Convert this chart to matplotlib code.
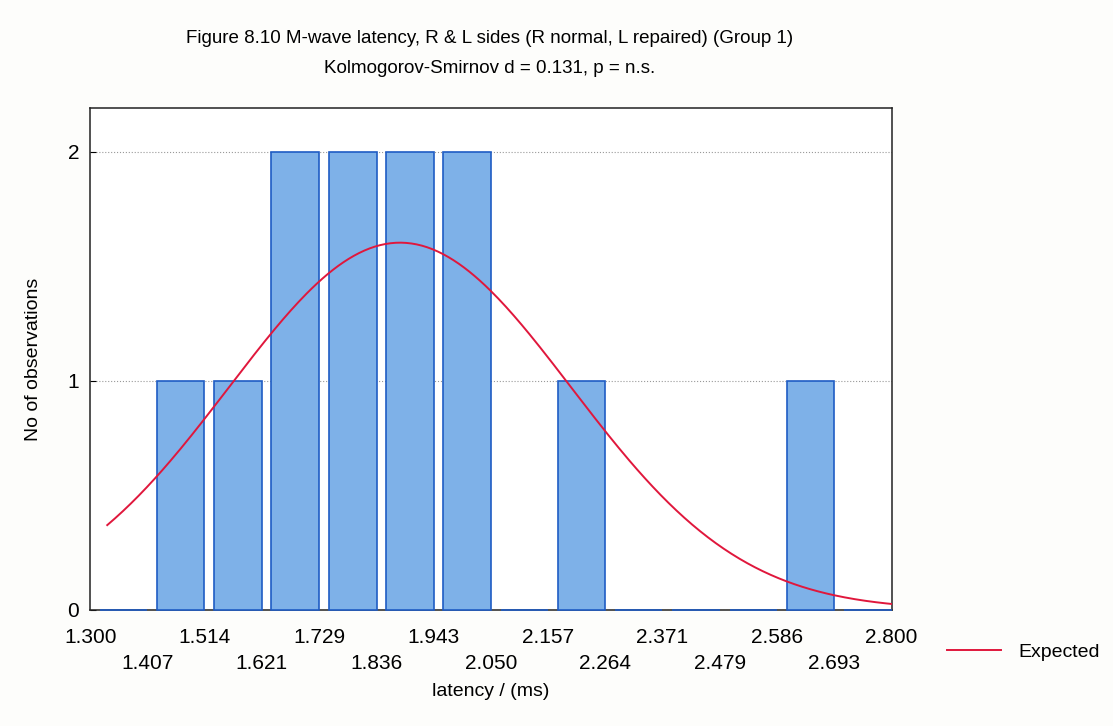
import numpy as np
import matplotlib.pyplot as plt

# ── DATA ────────────────────────────────────────────────────
bin_edges = [1.300, 1.407, 1.514, 1.621, 1.729, 1.836, 1.943, 2.050,
             2.157, 2.264, 2.371, 2.479, 2.586, 2.693, 2.800]
counts = [0, 1, 1, 2, 2, 2, 2, 0, 1, 0, 0, 0, 1, 0]
edge_labels = ['1.300', '1.407', '1.514', '1.621', '1.729', '1.836', '1.943', '2.050',
               '2.157', '2.264', '2.371', '2.479', '2.586', '2.693', '2.800']

# expected normal curve parameters
n_obs = 12
fit_mean = 1.88
fit_sd = 0.32
curve_start = 1.332

# ── CHART ───────────────────────────────────────────────────
plt.rcParams['font.family'] = ['Liberation Sans', 'DejaVu Sans']

fig = plt.figure(figsize=(11.13, 7.26), dpi=100, facecolor='#fdfdfb')
ax = fig.add_axes([0.081, 0.160, 0.720, 0.691])
ax.set_facecolor('white')

edges = np.array(bin_edges)
widths = np.diff(edges)
gap = 0.17 * widths
bars = ax.bar(edges[:-1] + gap, counts, width=widths - gap, align='edge',
              color='#7eb1e8', edgecolor='#1f5cc4', linewidth=1.2, zorder=3)
for b in bars:
    b.set_clip_on(False)

# expected frequencies
bw = widths.mean()
xs = np.linspace(curve_start, edges[-1], 300)
ys = n_obs * bw / (fit_sd * np.sqrt(2 * np.pi)) * np.exp(-0.5 * ((xs - fit_mean) / fit_sd) ** 2)
line, = ax.plot(xs, ys, color='#e0173c', linewidth=1.4, zorder=4, label='Expected')

ax.set_xlim(edges[0], edges[-1])
ax.set_ylim(0, 2.19)
ax.set_yticks([0, 1, 2])
ax.set_yticklabels(['0', '1', '2'], fontsize=15)
ax.yaxis.grid(True, linestyle=':', color='#999999', linewidth=0.8, zorder=0)
ax.tick_params(axis='y', length=4, direction='in', pad=8)

ax.set_xticks(edges)
ax.set_xticklabels([lab if i % 2 == 0 else '\n' + lab for i, lab in enumerate(edge_labels)],
                   fontsize=15, linespacing=1.5)
ax.tick_params(axis='x', length=0, pad=13)

for s in ax.spines.values():
    s.set_color('#222222')
    s.set_linewidth(1.1)

ax.set_xlabel('latency / (ms)', fontsize=14, labelpad=7)
ax.set_ylabel('No of observations', fontsize=14, labelpad=18)

fig.text(0.44, 0.947, 'Figure 8.10 M-wave latency, R & L sides (R normal, L repaired) (Group 1)',
         ha='center', va='center', fontsize=13.5)
fig.text(0.44, 0.905, 'Kolmogorov-Smirnov d = 0.131, p = n.s.',
         ha='center', va='center', fontsize=13.5)

fig.legend(handles=[line], loc='center left', bbox_to_anchor=(0.835, 0.102),
           frameon=False, fontsize=14, handlelength=2.8, handletextpad=0.9)

plt.savefig('out.png', dpi=100, facecolor=fig.get_facecolor())
plt.close()
